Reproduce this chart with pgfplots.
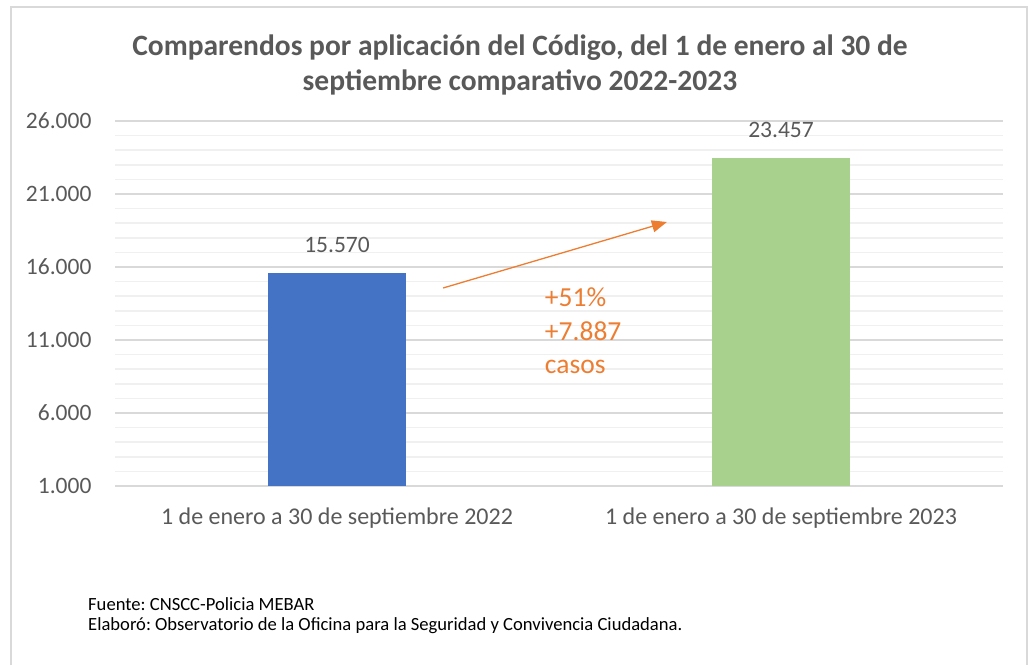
\documentclass[border=0pt]{standalone}
\usepackage{pgfplots}
\pgfplotsset{compat=1.18}
\usepackage{fontspec}
\setmainfont{Carlito}
\usetikzlibrary{arrows.meta}
\definecolor{txtgray}{HTML}{595959}
\definecolor{gridmaj}{HTML}{D9D9D9}
\definecolor{gridmin}{HTML}{F0F0F0}
\definecolor{barblue}{HTML}{4472C4}
\definecolor{bargreen}{HTML}{A9D18E}
\definecolor{arroworange}{HTML}{ED7D31}
\frenchspacing
\begin{document}
\begin{tikzpicture}[x=1pt,y=1pt]
\useasboundingbox (0,0) rectangle (1029,665);
% frame of the chart area
\draw[gridmaj,line width=2pt] (11,0) -- (11,658) -- (1027,658) -- (1027,0);
% title
\node[font=\fontsize{29.5}{35}\selectfont\bfseries, text=txtgray, align=center] at (520,600)
  {Comparendos por aplicación del Código, del 1 de enero al 30 de\\septiembre comparativo 2022-2023};
\begin{axis}[
  at={(115pt,179pt)}, anchor=south west,
  width=888pt, height=365pt, scale only axis,
  xmin=-0.5, xmax=1.5,
  ymin=1000, ymax=26000,
  xtick={0,1},
  xticklabels={1 de enero a 30 de septiembre 2022, 1 de enero a 30 de septiembre 2023},
  ytick={1000,6000,11000,16000,21000,26000},
  minor ytick={2000,3000,4000,5000,7000,8000,9000,10000,12000,13000,14000,15000,17000,18000,19000,20000,22000,23000,24000,25000},
  scaled y ticks=false,
  /pgf/number format/.cd, 1000 sep={.}, assume math mode=true, /pgfplots/.cd,
  ymajorgrids, yminorgrids,
  major grid style={gridmaj, line width=1.5pt},
  minor grid style={gridmin, line width=1.5pt},
  axis line style={draw=none},
  tick style={draw=none},
  tick label style={text=txtgray},
  yticklabel style={font=\fontsize{23.5}{28}\selectfont, xshift=-20pt},
  xticklabel style={font=\fontsize{24}{29}\selectfont, yshift=-14pt},
  ybar, bar width=138pt,
  nodes near coords,
  every node near coord/.append style={font=\fontsize{23.5}{28}\selectfont, text=txtgray, yshift=17pt},
  clip=false,
]
\addplot[fill=barblue, draw=none, bar shift=0pt] coordinates {(0,15570)};
\addplot[fill=bargreen, draw=none, bar shift=0pt] coordinates {(1,23457)};
\draw[arroworange, line width=1.3pt, -{Triangle[length=15pt,width=12pt]}]
  (axis cs:0.239,14562) -- (axis cs:0.743,19082);
\node[anchor=west, text=arroworange, font=\fontsize{27.5}{33}\selectfont, inner sep=0pt] at (axis cs:0.468,13945) {+51\%};
\node[anchor=west, text=arroworange, font=\fontsize{27.5}{33}\selectfont, inner sep=0pt] at (axis cs:0.468,11616) {+7.887};
\node[anchor=west, text=arroworange, font=\fontsize{27.5}{33}\selectfont, inner sep=0pt] at (axis cs:0.468,9151) {casos};
\end{axis}
\node[anchor=west, font=\fontsize{18.6}{22}\selectfont, inner sep=0pt] at (88,61) {Fuente: CNSCC-Policia MEBAR};
\node[anchor=west, font=\fontsize{18.6}{22}\selectfont, inner sep=0pt] at (88,39) {Elaboró: Observatorio de la Oficina para la Seguridad y Convivencia Ciudadana.};
\end{tikzpicture}
\end{document}
